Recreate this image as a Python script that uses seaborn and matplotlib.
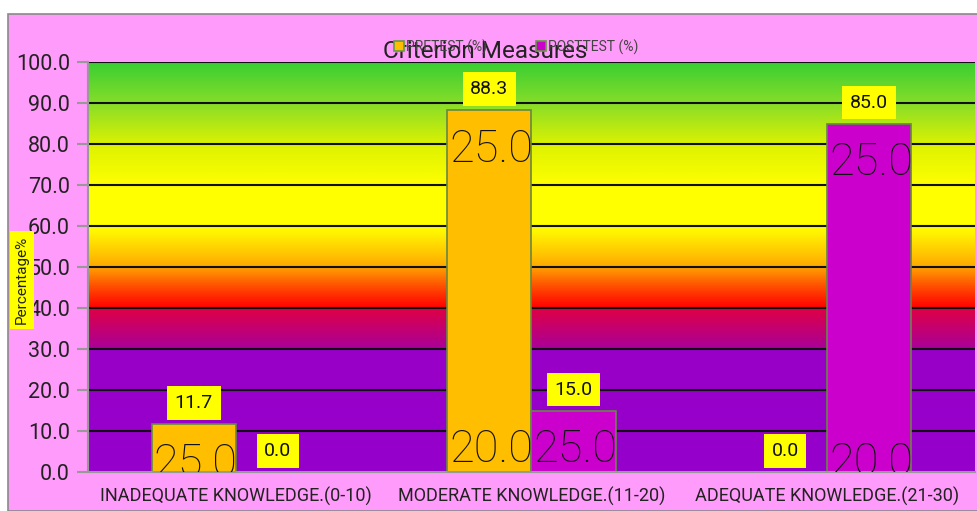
import numpy as np
import pandas as pd
import matplotlib
matplotlib.use("Agg")
import matplotlib.pyplot as plt
import seaborn as sns
from matplotlib.colors import LinearSegmentedColormap
from matplotlib.patches import Rectangle
from matplotlib.lines import Line2D
from matplotlib.transforms import Bbox, TransformedBbox

categories = ["INADEQUATE KNOWLEDGE.(0-10)", "MODERATE KNOWLEDGE.(11-20)", "ADEQUATE KNOWLEDGE.(21-30)"]
series_names = ["PRETEST (%)", "POSTTEST (%)"]
pretest = [11.7, 88.3, 0.0]
posttest = [0.0, 15.0, 85.0]
y_ticks = [0, 10, 20, 30, 40, 50, 60, 70, 80, 90, 100]
inner_texts = ["25.0", "20.0"]
colors = ["#FFBF00", "#CC00CC"]

sns.set_theme(style="white")
plt.rcParams['font.family'] = ['Roboto', 'DejaVu Sans']

df = pd.DataFrame({
    "cat": categories * 2,
    "val": pretest + posttest,
    "series": [series_names[0]] * 3 + [series_names[1]] * 3,
})

W, H = 978, 511
fig = plt.figure(figsize=(W / 100, H / 100), dpi=100)
fig.patch.set_facecolor("white")
fig.add_artist(Rectangle((8 / W, 0), 1.0, 1 - 14 / H, transform=fig.transFigure,
                         facecolor="#FF9BFA", edgecolor="#8a8a8a", linewidth=1.2, zorder=0))

ax = fig.add_axes([88 / W, 1 - 472 / H, (975 - 88) / W, (472 - 62) / H])
ax.set_facecolor("none")

# gradient background
stops = [
    (0.00, "#9600CC"), (0.30, "#9900C8"), (0.302, "#AA0098"), (0.398, "#DE0045"),
    (0.40, "#FF0000"), (0.45, "#FF4A00"), (0.50, "#FFA000"), (0.502, "#FFAA00"),
    (0.58, "#FFF000"), (0.60, "#FFFF00"), (0.70, "#FFFF00"), (0.80, "#DDF200"),
    (0.90, "#88DD28"), (1.00, "#3ACF33"),
]
cmap = LinearSegmentedColormap.from_list("bg", stops)
grad = np.linspace(0, 1, 1000).reshape(-1, 1)
ax.imshow(grad, extent=[-0.5, 2.5, 0, 100], origin="lower", aspect="auto",
          cmap=cmap, zorder=0, interpolation="bilinear")

for yv in y_ticks[1:]:
    ax.axhline(yv, color="#111111", lw=1.5, zorder=1)

sns.barplot(data=df, x="cat", y="val", hue="series", palette=colors,
            width=0.57, edgecolor="#668844", linewidth=1.2, legend=False,
            ax=ax, zorder=2, saturation=1)

ax.set_xlim(-0.5, 2.5)
ax.set_ylim(0, 100)
ax.set_yticks(y_ticks)
ax.set_yticklabels([f"{v:.1f}" for v in y_ticks], fontsize=15.5, color="#222222")
ax.set_xlabel("")
ax.set_ylabel("")
ax.tick_params(axis="x", labelsize=13, colors="#222222", length=0, pad=11)
ax.tick_params(axis="y", left=True, length=8, width=1.5, color="#999999", pad=5)
for s in ["top", "right"]:
    ax.spines[s].set_visible(False)
for s in ["left", "bottom"]:
    ax.spines[s].set_color("#999999")
    ax.spines[s].set_linewidth(1.5)

# annotations and clipped inner texts
for cont in ax.containers:
    for bar in cont:
        x0 = bar.get_x()
        w = bar.get_width()
        h = bar.get_height()
        ax.annotate(f"{h:.1f}", (x0 + w / 2, h), xytext=(0, 15), textcoords="offset points",
                    ha="center", va="center", fontsize=14, color="#111111", zorder=5,
                    bbox=dict(boxstyle="square,pad=0.4", fc="#FFFF00", ec="none"))
        if h > 0:
            clip = TransformedBbox(Bbox([[x0, 0], [x0 + w, h]]), ax.transData)
            for txt, off in zip(inner_texts, [4.4, 77.6]):
                t = ax.text(x0 + 0.006, h - off, txt, family="Roboto", fontweight="light",
                            fontsize=32.5, ha="left", va="top", color="#111111", zorder=4)
                t.set_clip_path(None)
                t.set_clip_box(clip)
                t.set_clip_on(True)

# title & legend
handles = [Line2D([], [], marker="s", ls="none", markersize=7.5, markerfacecolor=c,
                  markeredgecolor="#669944", markeredgewidth=1.2) for c in colors]
fig.legend(handles, series_names, ncol=2, loc="center", bbox_to_anchor=(516 / W, 1 - 47 / H),
           frameon=False, fontsize=10, handletextpad=0.1, columnspacing=3.5,
           handlelength=0.8, labelcolor="#444444")
fig.text(485 / W, 1 - 51 / H, "Criterion Measures", ha="center", va="center",
         fontsize=17.5, color="#222222")

fig.text(22 / W, 1 - 280 / H, "Percentage%", rotation=90, ha="center", va="center",
         fontsize=11, color="#222222",
         bbox=dict(boxstyle="square,pad=0.3", fc="#FFFF00", ec="none"))

fig.savefig("out.png", dpi=100)
